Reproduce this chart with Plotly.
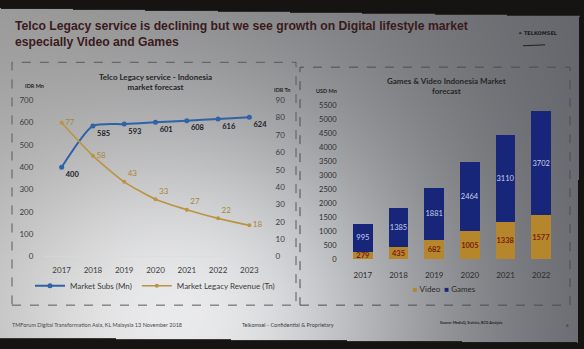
import base64
import struct
import zlib

import numpy as np
import plotly.graph_objects as go

W, H = 584, 349

# ---------------- data ----------------
years_left = ["2017", "2018", "2019", "2020", "2021", "2022", "2023"]
market_subs = [400, 585, 593, 601, 608, 616, 624]
legacy_revenue = [77, 58, 43, 33, 27, 22, 18]

years_right = ["2017", "2018", "2019", "2020", "2021", "2022"]
video = [279, 435, 682, 1005, 1338, 1577]
games = [995, 1385, 1881, 2464, 3110, 3702]

left_yticks = [0, 100, 200, 300, 400, 500, 600, 700]
right_yticks = [0, 10, 20, 30, 40, 50, 60, 70, 80, 90]
bar_yticks = [0, 500, 1000, 1500, 2000, 2500, 3000, 3500, 4000, 4500, 5000, 5500]


def px(x):
    return x / W


def py(y):
    return 1 - y / H


# ---------------- photographed-slide background (style only) ----------------
def background_uri():
    yy, xx = np.mgrid[0:H, 0:W].astype(float)
    base = 150 - 50 * (xx / W)
    glare = 100 * np.exp(-(((xx - 200) ** 2) / (2 * 170 ** 2) + ((yy - 320) ** 2) / (2 * 150 ** 2)))
    v = base + glare
    r = v
    g = v + 1.5 * (xx / W)
    b = v + 7 * (xx / W)
    img = np.stack([r, g, b], axis=-1)
    top = 3 + 8 * xx / 579
    bottom = 342 + 5 * xx / 577
    right = 579 - 2 * (yy - 11) / 336
    inside = (yy >= top) & (yy <= bottom) & (xx <= right)
    img[~inside] = [22, 19, 19]
    img = np.clip(img, 0, 255).astype(np.uint8)
    raw = b"".join(b"\x00" + img[i].tobytes() for i in range(H))

    def chunk(tag, data):
        return struct.pack(">I", len(data)) + tag + data + struct.pack(">I", zlib.crc32(tag + data) & 0xFFFFFFFF)

    png = b"\x89PNG\r\n\x1a\n" + chunk(b"IHDR", struct.pack(">IIBBBBB", W, H, 8, 2, 0, 0, 0)) \
        + chunk(b"IDAT", zlib.compress(raw, 9)) + chunk(b"IEND", b"")
    return "data:image/png;base64," + base64.b64encode(png).decode()


FONT = "Lato"
TICK_C = "#3c3c3c"
VIDEO_C = "#b5862b"
GAMES_C = "#18267a"

fig = go.Figure()

# ---------------- left chart ----------------
fig.add_trace(go.Scatter(
    x=years_left, y=market_subs, name="Market Subs (Mn)",
    mode="lines+markers+text", line=dict(color="#2f62a6", width=2, shape="spline", smoothing=0.6),
    marker=dict(size=5, color="#2f62a6"),
    text=[str(v) for v in market_subs], textposition="bottom right",
    textfont=dict(size=7.5, color="#1c1c28", family=FONT, weight="bold"),
    xaxis="x", yaxis="y", legend="legend", cliponaxis=False,
))
fig.add_trace(go.Scatter(
    x=years_left, y=legacy_revenue, name="Market Legacy Revenue (Tn)",
    mode="lines+markers+text", line=dict(color="#bb9440", width=1.6, shape="spline", smoothing=0.6),
    marker=dict(size=4, color="#bb9440"),
    text=[str(v) for v in legacy_revenue],
    textposition=["middle right", "middle right", "top right", "top right", "top right", "top right", "middle right"],
    textfont=dict(size=8, color="#a8873c", family=FONT),
    xaxis="x", yaxis="y2", legend="legend", cliponaxis=False,
))

# ---------------- right chart ----------------
fig.add_trace(go.Bar(
    x=years_right, y=video, name="Video", marker=dict(color=VIDEO_C, line=dict(width=0)),
    text=[str(v) for v in video], textposition="inside", insidetextanchor="middle",
    textfont=dict(size=7.5, color="#7a1e10", family=FONT, weight="bold"), textangle=0,
    xaxis="x3", yaxis="y3", showlegend=False,
))
fig.add_trace(go.Bar(
    x=years_right, y=games, name="Games", marker=dict(color=GAMES_C, line=dict(width=0)),
    text=[str(v) for v in games], textposition="inside", insidetextanchor="middle",
    textfont=dict(size=7.5, color="#c9d0ea", family=FONT), textangle=0,
    xaxis="x3", yaxis="y3", showlegend=False,
))

# ---------------- shapes ----------------
shapes = []
shapes.append(dict(type="rect", xref="paper", yref="paper", x0=px(12), x1=px(296), y0=py(309), y1=py(59),
                   line=dict(color="#5a5a5a", width=1, dash="dash"), layer="below"))
shapes.append(dict(type="rect", xref="paper", yref="paper", x0=px(300), x1=px(570), y0=py(309), y1=py(64),
                   line=dict(color="#4a4d52", width=1, dash="dash"), layer="below"))
shapes.append(dict(type="line", xref="paper", yref="y", x0=px(44), x1=px(266), y0=0, y1=0,
                   line=dict(color="#dadada", width=1), layer="below"))
shapes.append(dict(type="line", xref="paper", yref="paper", x0=px(523), x1=px(545), y0=py(42), y1=py(41),
                   line=dict(color="#202020", width=1)))

# ---------------- annotations ----------------
ann = []
ann.append(dict(xref="paper", yref="paper", x=px(13), y=py(12), xanchor="left", yanchor="top", align="left",
                text="<b>Telco Legacy service is declining but we see growth on Digital lifestyle market<br>especially Video and Games</b>",
                showarrow=False, font=dict(family="Liberation Sans", size=12.2, color="#3a1a1c")))
ann.append(dict(xref="paper", yref="paper", x=px(155), y=py(79), xanchor="center", yanchor="middle",
                text="<b>Telco Legacy service - Indonesia<br>market forecast</b>", showarrow=False,
                font=dict(family=FONT, size=8, color="#262626")))
ann.append(dict(xref="paper", yref="paper", x=px(446), y=py(83), xanchor="center", yanchor="middle",
                text="<b>Games & Video Indonesia Market<br>forecast</b>", showarrow=False,
                font=dict(family=FONT, size=8, color="#262626")))
ann.append(dict(xref="paper", yref="paper", x=px(23), y=py(83), xanchor="left", yanchor="middle",
                text="<b>IDR Mn</b>", showarrow=False, font=dict(family=FONT, size=5.5, color="#262626")))
ann.append(dict(xref="paper", yref="paper", x=px(272), y=py(88), xanchor="left", yanchor="middle",
                text="<b>IDR Tn</b>", showarrow=False, font=dict(family=FONT, size=5.5, color="#262626")))
ann.append(dict(xref="paper", yref="paper", x=px(314), y=py(89), xanchor="left", yanchor="middle",
                text="<b>USD Mn</b>", showarrow=False, font=dict(family=FONT, size=5.5, color="#262626")))
# legend of the bar chart
ann.append(dict(xref="paper", yref="paper", x=px(444), y=py(292), xanchor="center", yanchor="middle",
                text=f"<span style='color:{VIDEO_C}'>■</span> Video  <span style='color:{GAMES_C}'>■</span> Games",
                showarrow=False, font=dict(family=FONT, size=8, color="#2a2a2a")))
ann.append(dict(xref="paper", yref="paper", x=px(538), y=py(29), xanchor="center", yanchor="middle",
                text="<b>✦ TELKOMSEL</b>", showarrow=False, font=dict(family="DejaVu Sans", size=5, color="#1c1c1c")))
ann.append(dict(xref="paper", yref="paper", x=px(10), y=py(329), xanchor="left", yanchor="middle",
                text="TMForum Digital Transformation Asia, KL Malaysia 13 November 2018", showarrow=False,
                font=dict(family=FONT, size=5.5, color="#4a4a4a")))
ann.append(dict(xref="paper", yref="paper", x=px(240), y=py(329), xanchor="left", yanchor="middle",
                text="Telkomsel - Confidential & Proprietary", showarrow=False,
                font=dict(family=FONT, size=5.5, color="#404040")))
ann.append(dict(xref="paper", yref="paper", x=px(438), y=py(327), xanchor="left", yanchor="middle",
                text="<b>Source: MediaQ, Statista, BCG Analysis</b>", showarrow=False,
                font=dict(family=FONT, size=3.6, color="#1e1e1e")))
ann.append(dict(xref="paper", yref="paper", x=px(567), y=py(330), xanchor="center", yanchor="middle",
                text="4", showarrow=False, font=dict(family=FONT, size=4.5, color="#303030")))

tickfont = dict(family=FONT, size=8, color=TICK_C)

fig.update_layout(
    width=W, height=H, margin=dict(l=0, r=0, t=0, b=0),
    paper_bgcolor="#161313", plot_bgcolor="rgba(0,0,0,0)",
    images=[dict(source=background_uri(), xref="paper", yref="paper", x=0, y=1, sizex=1, sizey=1,
                 xanchor="left", yanchor="top", sizing="stretch", layer="below")],
    showlegend=True, barmode="stack", bargap=0.44,
    uniformtext=dict(minsize=7.5, mode="show"),
    shapes=shapes, annotations=ann,
    xaxis=dict(domain=[px(46), px(265)], type="category", range=[-0.5, 6.5], showgrid=False, zeroline=False,
               showline=False, tickfont=tickfont, ticks="outside", ticklen=6, tickcolor="rgba(0,0,0,0)",
               anchor="y"),
    yaxis=dict(domain=[py(259), py(98)], range=[0, 700], tickvals=left_yticks, showgrid=False, zeroline=False,
               showline=False, tickfont=tickfont, ticks="outside", ticklen=10, tickcolor="rgba(0,0,0,0)",
               anchor="x"),
    yaxis2=dict(overlaying="y", side="right", range=[0, 90], tickvals=right_yticks, showgrid=False,
                zeroline=False, showline=False, tickfont=tickfont, ticks="outside", ticklen=8,
                tickcolor="rgba(0,0,0,0)", anchor="x"),
    xaxis3=dict(domain=[px(345), px(559)], type="category", range=[-0.5, 5.5], showgrid=False, zeroline=False,
                showline=False, tickfont=dict(family=FONT, size=8, color="#2c2c2c"), ticks="outside", ticklen=8,
                tickcolor="rgba(0,0,0,0)", anchor="y3"),
    yaxis3=dict(domain=[py(262), py(103)], range=[0, 5500], tickvals=bar_yticks, showgrid=False, zeroline=False,
                showline=False, tickfont=dict(family=FONT, size=7.5, color="#2c2c2c"), ticks="outside", ticklen=6,
                tickcolor="rgba(0,0,0,0)", anchor="x3"),
    legend=dict(orientation="h", x=px(155), y=py(289), xanchor="center", yanchor="middle", traceorder="normal",
                bgcolor="rgba(0,0,0,0)", font=dict(family=FONT, size=8, color="#3a3a3a"), itemwidth=30),
)

fig.write_html("out.html")
